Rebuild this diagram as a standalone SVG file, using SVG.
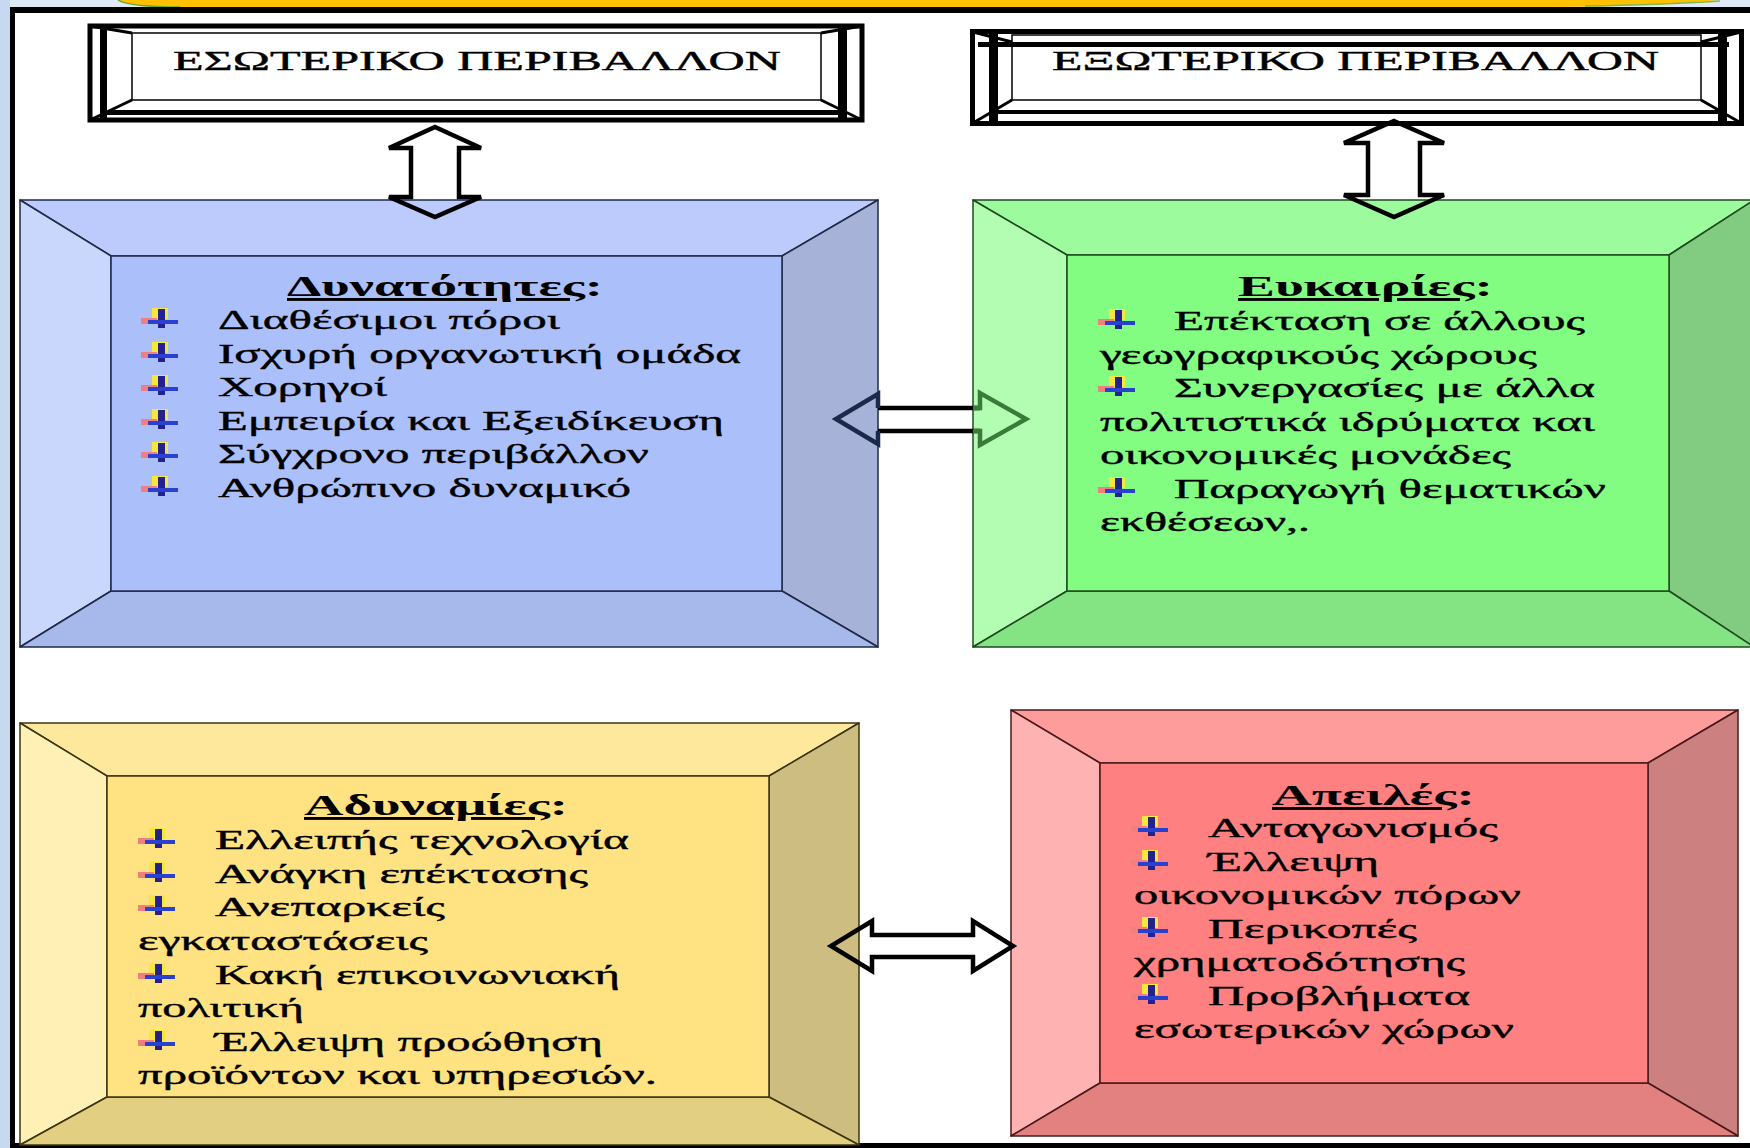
<svg xmlns="http://www.w3.org/2000/svg" width="1750" height="1148" viewBox="0 0 1750 1148">
<style>
.hdr{font-family:"Liberation Serif","DejaVu Serif",serif;font-size:27px;fill:#000;stroke:#000;stroke-width:0.4;}
.t{font-family:"Liberation Serif","DejaVu Serif",serif;font-size:28px;fill:#000;stroke:#000;stroke-width:0.4;}
.ttl{font-family:"Liberation Serif","DejaVu Serif",serif;font-size:29px;font-weight:bold;fill:#000;}
.edge{stroke-width:1.5;stroke-linejoin:round;}
.fr{fill:none;stroke:#000;}
.arr{fill:none;stroke-width:4.5;stroke-linejoin:miter;}
</style>
<defs>
<filter id="soft" x="-20%" y="-20%" width="140%" height="140%"><feGaussianBlur stdDeviation="0.7"/></filter>
<g id="bul" filter="url(#soft)">
<rect x="11" y="0" width="16" height="11" fill="#F7E640"/>
<rect x="0" y="10" width="16" height="6" fill="#F08080"/>
<rect x="17" y="1" width="7" height="19" fill="#20208A"/>
<rect x="7" y="12" width="30" height="4" fill="#2A40D0"/>
</g>
</defs>
<rect x="0" y="0" width="1750" height="1148" fill="#fff"/>
<!-- page decoration -->
<rect x="0" y="0" width="1750" height="8" fill="#DFE8F5"/>
<path d="M118,0 Q128,7 180,7 L1560,7 Q1640,7 1720,0 Z" fill="#FFC000"/>
<path d="M118,0 Q128,7 180,7" fill="none" stroke="#5DA832" stroke-width="1.5"/>
<path d="M1585,6 Q1660,5 1720,1" fill="none" stroke="#7DB84A" stroke-width="1.5"/>
<rect x="0" y="0" width="10" height="1148" fill="#C6D9F0"/>
<rect x="10" y="7" width="1740" height="6" fill="#000"/>
<rect x="10" y="7" width="5" height="1141" fill="#000"/>
<rect x="10" y="1143" width="1740" height="5" fill="#000"/>

<!-- header boxes -->
<g id="header-internal">
<rect x="90" y="26" width="772" height="94" class="fr" stroke-width="5"/>
<rect x="100" y="28" width="7" height="90" fill="#000"/>
<rect x="838" y="28" width="9" height="90" fill="#000"/>
<rect x="107" y="110" width="731" height="5" fill="#000"/>
<line x1="90" y1="26" x2="132" y2="33" stroke="#000" stroke-width="3"/>
<line x1="862" y1="26" x2="821" y2="33" stroke="#000" stroke-width="3"/>
<line x1="90" y1="120" x2="132" y2="100" stroke="#000" stroke-width="3"/>
<line x1="862" y1="120" x2="821" y2="100" stroke="#000" stroke-width="3"/>
<rect x="132" y="33" width="689" height="67" class="fr" stroke-width="1.5"/>
<text class="hdr" x="173" y="70" textLength="608" lengthAdjust="spacingAndGlyphs">ΕΣΩΤΕΡΙΚΟ ΠΕΡΙΒΑΛΛΟΝ</text>
</g>
<g id="header-external">
<rect x="972.5" y="31.5" width="769" height="92" class="fr" stroke-width="5"/>
<rect x="989" y="34" width="9" height="88" fill="#000"/>
<rect x="1718" y="34" width="9" height="88" fill="#000"/>
<rect x="978" y="42" width="751" height="5" fill="#000"/>
<rect x="998" y="110" width="720" height="4" fill="#000"/>
<line x1="973" y1="32" x2="1012" y2="42" stroke="#000" stroke-width="3"/>
<line x1="1741" y1="32" x2="1701" y2="42" stroke="#000" stroke-width="3"/>
<line x1="973" y1="123" x2="1012" y2="100" stroke="#000" stroke-width="3"/>
<line x1="1741" y1="123" x2="1701" y2="100" stroke="#000" stroke-width="3"/>
<rect x="1012" y="35" width="689" height="65" class="fr" stroke-width="1.5"/>
<text class="hdr" x="1052" y="70" textLength="607" lengthAdjust="spacingAndGlyphs">ΕΞΩΤΕΡΙΚΟ ΠΕΡΙΒΑΛΛΟΝ</text>
</g>

<!-- Strengths (blue) -->
<g id="strengths">
<g class="edge" stroke="#1F2A48">
<polygon points="20,200 878,200 782,256 111,256" fill="#BCCBFC"/>
<polygon points="20,200 111,256 111,591 20,647" fill="#CAD7FD"/>
<polygon points="878,200 878,647 782,591 782,256" fill="#A6B2D8"/>
<polygon points="20,647 111,591 782,591 878,647" fill="#A7B8EA"/>
<rect x="111" y="256" width="671" height="335" fill="#ABBFFA"/>
</g>
<text class="ttl" x="287" y="296" textLength="316" lengthAdjust="spacingAndGlyphs"><tspan text-decoration="underline">Δυνατότητες</tspan>:</text>
<use href="#bul" x="141" y="308"/>
<use href="#bul" x="141" y="342"/>
<use href="#bul" x="141" y="375"/>
<use href="#bul" x="141" y="409"/>
<use href="#bul" x="141" y="442"/>
<use href="#bul" x="141" y="476"/>
<text class="t" x="218" y="329" textLength="342" lengthAdjust="spacingAndGlyphs">Διαθέσιμοι πόροι</text>
<text class="t" x="218" y="363" textLength="523" lengthAdjust="spacingAndGlyphs">Ισχυρή οργανωτική ομάδα</text>
<text class="t" x="218" y="396" textLength="169" lengthAdjust="spacingAndGlyphs">Χορηγοί</text>
<text class="t" x="218" y="430" textLength="506" lengthAdjust="spacingAndGlyphs">Εμπειρία και Εξειδίκευση</text>
<text class="t" x="218" y="463" textLength="431" lengthAdjust="spacingAndGlyphs">Σύγχρονο περιβάλλον</text>
<text class="t" x="218" y="497" textLength="413" lengthAdjust="spacingAndGlyphs">Ανθρώπινο δυναμικό</text>
</g>

<!-- Opportunities (green) -->
<g id="opportunities">
<g class="edge" stroke="#1F4A1F">
<polygon points="973,200 1754,200 1669,255 1067,255" fill="#9CFB9C"/>
<polygon points="973,200 1067,255 1067,591 973,647" fill="#B2FDB2"/>
<polygon points="1754,200 1754,647 1669,591 1669,255" fill="#82CC82"/>
<polygon points="973,647 1067,591 1669,591 1754,647" fill="#84E484"/>
<rect x="1067" y="255" width="602" height="336" fill="#82FD82"/>
</g>
<text class="ttl" x="1238" y="296" textLength="255" lengthAdjust="spacingAndGlyphs"><tspan text-decoration="underline">Ευκαιρίες</tspan>:</text>
<use href="#bul" x="1098" y="309"/>
<use href="#bul" x="1098" y="376"/>
<use href="#bul" x="1098" y="477"/>
<text class="t" x="1174" y="330" textLength="411" lengthAdjust="spacingAndGlyphs">Επέκταση σε άλλους</text>
<text class="t" x="1100" y="364" textLength="437" lengthAdjust="spacingAndGlyphs">γεωγραφικούς χώρους</text>
<text class="t" x="1174" y="397" textLength="421" lengthAdjust="spacingAndGlyphs">Συνεργασίες με άλλα</text>
<text class="t" x="1100" y="431" textLength="495" lengthAdjust="spacingAndGlyphs">πολιτιστικά ιδρύματα και</text>
<text class="t" x="1100" y="464" textLength="411" lengthAdjust="spacingAndGlyphs">οικονομικές μονάδες</text>
<text class="t" x="1174" y="498" textLength="432" lengthAdjust="spacingAndGlyphs">Παραγωγή θεματικών</text>
<text class="t" x="1100" y="531" textLength="210" lengthAdjust="spacingAndGlyphs">εκθέσεων,.</text>
</g>

<!-- Weaknesses (yellow) -->
<g id="weaknesses">
<g class="edge" stroke="#3D3410">
<polygon points="20,723 859,723 769,776 107,776" fill="#FDE89B"/>
<polygon points="20,723 107,776 107,1097 20,1145" fill="#FFF0B5"/>
<polygon points="859,723 859,1145 769,1097 769,776" fill="#CDBD80"/>
<polygon points="20,1145 107,1097 769,1097 859,1145" fill="#E2CF82"/>
<rect x="107" y="776" width="662" height="321" fill="#FFE281"/>
</g>
<text class="ttl" x="304" y="815" textLength="264" lengthAdjust="spacingAndGlyphs"><tspan text-decoration="underline">Αδυναμίες</tspan>:</text>
<use href="#bul" x="138" y="828"/>
<use href="#bul" x="138" y="862"/>
<use href="#bul" x="138" y="895"/>
<use href="#bul" x="138" y="963"/>
<use href="#bul" x="138" y="1030"/>
<text class="t" x="215" y="849" textLength="414" lengthAdjust="spacingAndGlyphs">Ελλειπής τεχνολογία</text>
<text class="t" x="215" y="883" textLength="373" lengthAdjust="spacingAndGlyphs">Ανάγκη επέκτασης</text>
<text class="t" x="215" y="916" textLength="230" lengthAdjust="spacingAndGlyphs">Ανεπαρκείς</text>
<text class="t" x="138" y="950" textLength="290" lengthAdjust="spacingAndGlyphs">εγκαταστάσεις</text>
<text class="t" x="215" y="984" textLength="405" lengthAdjust="spacingAndGlyphs">Κακή επικοινωνιακή</text>
<text class="t" x="138" y="1017" textLength="166" lengthAdjust="spacingAndGlyphs">πολιτική</text>
<text class="t" x="215" y="1051" textLength="388" lengthAdjust="spacingAndGlyphs">Έλλειψη προώθηση</text>
<text class="t" x="138" y="1084" textLength="519" lengthAdjust="spacingAndGlyphs">προϊόντων και υπηρεσιών.</text>
</g>

<!-- Threats (red) -->
<g id="threats">
<g class="edge" stroke="#4A1A1A">
<polygon points="1011,710 1738,710 1648,763 1100,763" fill="#FE9B9B"/>
<polygon points="1011,710 1100,763 1100,1083 1011,1136" fill="#FFB2B2"/>
<polygon points="1738,710 1738,1136 1648,1083 1648,763" fill="#CC8080"/>
<polygon points="1011,1136 1100,1083 1648,1083 1738,1136" fill="#E38080"/>
<rect x="1100" y="763" width="548" height="320" fill="#FF8080"/>
</g>
<text class="ttl" x="1272" y="805" textLength="203" lengthAdjust="spacingAndGlyphs"><tspan text-decoration="underline">Απειλές</tspan>:</text>
<use href="#bul" x="1131" y="816"/>
<use href="#bul" x="1131" y="850"/>
<use href="#bul" x="1131" y="917"/>
<use href="#bul" x="1131" y="984"/>
<text class="t" x="1208" y="837" textLength="290" lengthAdjust="spacingAndGlyphs">Ανταγωνισμός</text>
<text class="t" x="1208" y="871" textLength="171" lengthAdjust="spacingAndGlyphs">Έλλειψη</text>
<text class="t" x="1134" y="904" textLength="387" lengthAdjust="spacingAndGlyphs">οικονομικών πόρων</text>
<text class="t" x="1208" y="938" textLength="209" lengthAdjust="spacingAndGlyphs">Περικοπές</text>
<text class="t" x="1134" y="971" textLength="331" lengthAdjust="spacingAndGlyphs">χρηματοδότησης</text>
<text class="t" x="1208" y="1005" textLength="262" lengthAdjust="spacingAndGlyphs">Προβλήματα</text>
<text class="t" x="1134" y="1038" textLength="380" lengthAdjust="spacingAndGlyphs">εσωτερικών χώρων</text>
</g>

<g id="connectors">
<!-- vertical double arrows -->
<path class="arr" stroke="#000" d="M435,127 L481,148 L459,148 L459,197 L481,197 L435,217 L389,197 L411,197 L411,148 L389,148 Z"/>
<path class="arr" stroke="#000" d="M1394,121 L1444,143 L1420,143 L1420,195 L1444,195 L1394,217 L1344,195 L1368,195 L1368,143 L1344,143 Z"/>
<!-- top horizontal arrow: shaft black, heads tinted by boxes -->
<path class="arr" stroke="#000" d="M878,408 L980,408 M878,431 L980,431"/>
<path class="arr" stroke="#1B2A4A" d="M878,408 L878,394 L836,419 L878,444 L878,431"/>
<path class="arr" stroke="#3A7A3A" d="M973,408 L980,408 L980,393 L1026,419 L980,445 L980,431 L973,431"/>
<!-- bottom horizontal arrow -->
<path class="arr" stroke="#000" d="M872,935 L973,935 L973,921 L1013,946 L973,971 L973,957 L872,957 L872,971 L831,946 L872,921 Z"/>
</g>
</svg>
